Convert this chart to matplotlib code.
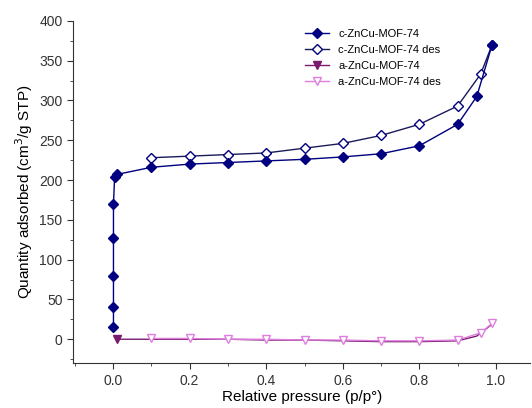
import matplotlib.pyplot as plt
from matplotlib.ticker import AutoMinorLocator

plt.rcParams["font.family"] = ["Liberation Sans", "DejaVu Sans"]

# c-ZnCu-MOF-74 adsorption / desorption
c_ads_x = [0.001, 0.001, 0.001, 0.001, 0.001, 0.004, 0.01, 0.1, 0.2, 0.3, 0.4, 0.5,
           0.6, 0.7, 0.8, 0.9, 0.95, 0.99]
c_ads_y = [16, 40, 80, 127, 170, 204, 207, 216, 220, 222, 224, 226,
           229, 233, 243, 270, 305, 370]
c_des_x = [0.99, 0.96, 0.9, 0.8, 0.7, 0.6, 0.5, 0.4, 0.3, 0.2, 0.1]
c_des_y = [370, 333, 293, 270, 256, 246, 240, 234, 232, 230, 228]

# a-ZnCu-MOF-74 adsorption / desorption
a_ads_x = [0.01, 0.1, 0.2, 0.3, 0.4, 0.5, 0.6, 0.7, 0.8, 0.9, 0.95, 0.99]
a_ads_y = [0, 0, 0, 0, -1, -1, -2, -3, -3, -2, 4, 19]
a_des_x = [0.99, 0.96, 0.9, 0.8, 0.7, 0.6, 0.5, 0.4, 0.3, 0.2, 0.1]
a_des_y = [20, 8, -1, -2, -2, -1, -1, 0, 0, 1, 1]

fig = plt.figure(figsize=(5.32, 4.08), dpi=100)
ax = fig.add_axes([0.137, 0.11, 0.86, 0.839])

ax.plot(c_ads_x, c_ads_y, color="#000080", marker="D", markersize=5,
        lw=1.0, label="c-ZnCu-MOF-74", zorder=4)
ax.plot(c_des_x, c_des_y, color="#1a1a5a", marker="D", markersize=5,
        mfc="white", mec="#000080", lw=1.0, label="c-ZnCu-MOF-74 des", zorder=3)
ax.plot(a_ads_x, a_ads_y, color="#7a1a6e", marker="v", markersize=6,
        lw=1.0, label="a-ZnCu-MOF-74", markevery=[0], zorder=4)
ax.plot(a_des_x, a_des_y, color="#e07ee0", marker="v", markersize=6,
        mfc="white", mec="#e07ee0", lw=1.0, label="a-ZnCu-MOF-74 des", zorder=5)

ax.set_xlim(-0.105, 1.09)
ax.set_ylim(-30, 400)
ax.set_xticks([0.0, 0.2, 0.4, 0.6, 0.8, 1.0])
ax.set_yticks(range(0, 401, 50))
ax.xaxis.set_minor_locator(AutoMinorLocator(2))
ax.yaxis.set_minor_locator(AutoMinorLocator(2))
ax.tick_params(which="both", direction="out", colors="#333333", labelsize=10)
ax.tick_params(which="major", length=4)
ax.tick_params(which="minor", length=2.5)
for side in ["top", "right"]:
    ax.spines[side].set_visible(False)
for side in ["left", "bottom"]:
    ax.spines[side].set_color("#333333")

ax.set_xlabel("Relative pressure (p/p°)", fontsize=11, labelpad=2)
ax.set_ylabel("Quantity adsorbed (cm$^3$/g STP)", fontsize=11, labelpad=3)

ax.legend(loc="upper left", bbox_to_anchor=(0.49, 1.0), frameon=False,
          fontsize=8, handlelength=2.2, labelspacing=0.55, borderpad=0.2)

fig.savefig("out.png", dpi=100)
